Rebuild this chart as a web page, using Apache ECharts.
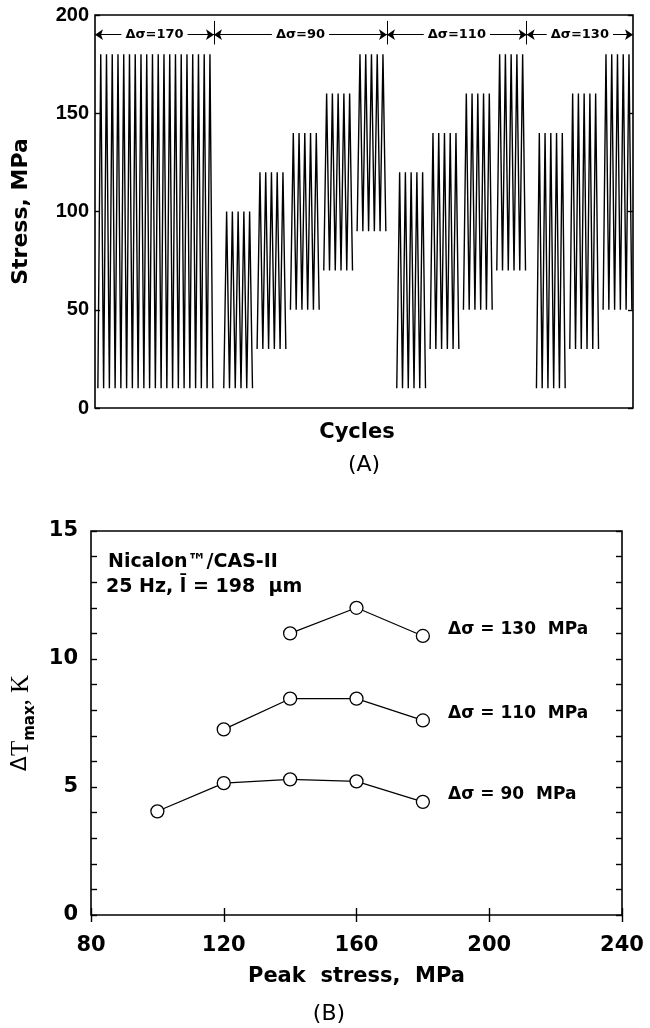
<!DOCTYPE html>
<html><head><meta charset="utf-8">
<script src="https://cdn.jsdelivr.net/npm/echarts@6/dist/echarts.min.js"></script>
<style>html,body{margin:0;padding:0;background:#fff}#c{width:650px;height:1028px}</style>
</head><body><div id="c"></div>
<script>
// ---------- Panel A: loading program (stress levels per step, cycles per step) ----------
const stepMin    = [10, 10, 30, 50, 70, 90, 10, 30, 50, 70, 10, 30, 50];
const stepMax    = [180, 100, 120, 140, 160, 180, 120, 140, 160, 180, 140, 160, 180];
const stepCycles = [20, 5, 5, 5, 5, 5, 5, 5, 5, 5, 5, 5, 5];
const stepBlock  = [0, 1, 1, 1, 1, 1, 2, 2, 2, 2, 3, 3, 3];
const blockLabels = ['Δσ=170', 'Δσ=90', 'Δσ=110', 'Δσ=130'];
const stressTicks = [0, 50, 100, 150, 200];

// ---------- Panel B: ΔTmax vs peak stress ----------
const peakStress = [100, 120, 140, 160, 180];
const dT90  = [4.05, 5.15, 5.3, 5.22, 4.42];
const dT110 = [null, 7.25, 8.45, 8.45, 7.6];
const dT130 = [null, null, 11.0, 12.0, 10.9];
const seriesLabels = ['Δσ = 90  MPa', 'Δσ = 110  MPa', 'Δσ = 130  MPa'];
const peakTicks = [80, 120, 160, 200, 240];
const dTTicks = [0, 5, 10, 15];

// ---------- styling constants ----------
const FB = 'DejaVu Sans';
const FA = 'Liberation Sans';
const STEP_GAP = 0.8, BLOCK_GAP = 1.9, START = 0.5, END_PAD = 0.2;

const waveSeries = [];
const blockStart = [], blockEnd = [];
let cur = START;
stepMin.forEach((lo, i) => {
  const b = stepBlock[i];
  if (i > 0) cur += (b !== stepBlock[i - 1]) ? BLOCK_GAP : STEP_GAP;
  if (blockStart[b] === undefined) blockStart[b] = cur;
  const pts = [];
  for (let c = 0; c < stepCycles[i]; c++) {
    pts.push([cur + c, lo]);
    pts.push([cur + c + 0.5, stepMax[i]]);
  }
  pts.push([cur + stepCycles[i], lo]);
  cur += stepCycles[i];
  blockEnd[b] = cur;
  waveSeries.push({
    type: 'line', xAxisIndex: 0, yAxisIndex: 0, data: pts,
    showSymbol: false, symbol: 'none', silent: true,
    lineStyle: { color: '#000', width: 1.4 }
  });
});
const XMAX = cur + END_PAD;
const seps = blockEnd.slice(0, -1).map(e => e + 0.2);
const bounds = [0, ...seps, XMAX];
const ARROW_Y = 190;

waveSeries[0].markLine = {
  silent: true, animation: false, symbol: ['arrow', 'arrow'], symbolSize: 8,
  lineStyle: { color: '#000', width: 1, type: 'solid' },
  label: { show: false },
  data: blockLabels.map((t, b) => [
    { coord: [bounds[b], ARROW_Y] },
    { coord: [bounds[b + 1], ARROW_Y] }
  ])
};
waveSeries[1].markLine = {
  silent: true, animation: false, symbol: 'none',
  lineStyle: { color: '#000', width: 1, type: 'solid' },
  label: { show: false },
  data: seps.map(s => [{ coord: [s, 185] }, { coord: [s, 197] }])
};

const blockLabelSeries = {
  type: 'scatter', xAxisIndex: 0, yAxisIndex: 0, z: 10, silent: true,
  symbol: 'rect', symbolSize: 1, itemStyle: { color: '#fff', opacity: 1 },
  label: {
    show: true, position: 'inside', formatter: '{b}', color: '#000', opacity: 1,
    textBorderWidth: 0, textShadowBlur: 0,
    fontFamily: FB, fontWeight: 'bold', fontSize: 13,
    backgroundColor: '#fff', padding: [1, 4]
  },
  emphasis: { disabled: true },
  data: blockLabels.map((t, b) => ({ name: t, value: [(bounds[b] + bounds[b + 1]) / 2, ARROW_Y] }))
};

const labelDy = [-7, -7, -6];
const bSeries = [dT90, dT110, dT130].map((vals, k) => {
  const pts = [];
  peakStress.forEach((x, i) => { if (vals[i] != null) pts.push([x, vals[i]]); });
  const last = pts.length - 1;
  return {
    type: 'line', xAxisIndex: 1, yAxisIndex: 2,
    symbol: 'circle', symbolSize: 13, showSymbol: true, silent: true,
    itemStyle: { color: '#fff', borderColor: '#000', borderWidth: 1.3 },
    lineStyle: { color: '#000', width: 1.2 },
    data: pts.map((p, i) => i === last ? {
      value: p,
      label: {
        show: true, position: 'right', distance: 18, offset: [0, labelDy[k]],
        formatter: seriesLabels[k], color: '#000',
        fontFamily: FB, fontWeight: 'bold', fontSize: 17
      }
    } : p)
  };
});

const tickStyle = { color: '#000', width: 1.4 };
const nameStyle = (size) => ({ fontFamily: FB, fontWeight: 'bold', fontSize: size, color: '#000' });

const option = {
  animation: false,
  backgroundColor: '#fff',
  grid: [
    { left: 95, top: 15, width: 538, height: 393, show: true, borderColor: '#000', borderWidth: 1.6, containLabel: false },
    { left: 91, top: 531, width: 531, height: 384, show: true, borderColor: '#000', borderWidth: 1.6, containLabel: false }
  ],
  xAxis: [
    {
      gridIndex: 0, type: 'value', min: 0, max: XMAX,
      axisLine: { show: false }, axisTick: { show: false }, axisLabel: { show: false }, splitLine: { show: false },
      name: 'Cycles', nameLocation: 'middle', nameGap: 14,
      nameTextStyle: Object.assign(nameStyle(21), { padding: [0, 14, 0, 0] })
    },
    {
      gridIndex: 1, type: 'value', min: peakTicks[0], max: peakTicks[peakTicks.length - 1], interval: 40, position: 'bottom',
      axisLine: { show: false }, splitLine: { show: false },
      axisTick: { show: true, inside: true, length: 7, lineStyle: tickStyle },
      axisLabel: { show: true, margin: 20, fontFamily: FB, fontWeight: 'bold', fontSize: 21, color: '#000' },
      name: 'Peak  stress,  MPa', nameLocation: 'middle', nameGap: 51, nameTextStyle: nameStyle(21)
    },
    {
      gridIndex: 1, type: 'value', min: peakTicks[0], max: peakTicks[peakTicks.length - 1], interval: 40, position: 'top',
      axisLine: { show: false }, splitLine: { show: false }, axisLabel: { show: false },
      axisTick: { show: true, inside: true, length: 7, lineStyle: tickStyle }
    }
  ],
  yAxis: [
    {
      gridIndex: 0, type: 'value', min: stressTicks[0], max: stressTicks[stressTicks.length - 1], interval: 50, position: 'left',
      axisLine: { show: false }, splitLine: { show: false },
      axisTick: { show: true, inside: true, length: 5, lineStyle: tickStyle },
      axisLabel: { show: true, margin: 6, fontFamily: FA, fontWeight: 'bold', fontSize: 20, color: '#000' },
      name: 'Stress, MPa', nameLocation: 'middle', nameRotate: 90, nameGap: 63, nameTextStyle: nameStyle(22)
    },
    {
      gridIndex: 0, type: 'value', min: stressTicks[0], max: stressTicks[stressTicks.length - 1], interval: 50, position: 'right',
      axisLine: { show: false }, splitLine: { show: false }, axisLabel: { show: false },
      axisTick: { show: true, inside: true, length: 5, lineStyle: tickStyle }
    },
    {
      gridIndex: 1, type: 'value', min: dTTicks[0], max: dTTicks[dTTicks.length - 1], interval: 5, position: 'left',
      axisLine: { show: false }, splitLine: { show: false },
      axisTick: { show: true, inside: true, length: 6, lineStyle: tickStyle },
      minorTick: { show: true, splitNumber: 5, length: 6, lineStyle: tickStyle },
      axisLabel: { show: true, margin: 13, fontFamily: FB, fontWeight: 'bold', fontSize: 21, color: '#000' },
      name: '{d|Δ}{t|T}{s|max}{t|, K}', nameLocation: 'middle', nameRotate: 90, nameGap: 30,
      nameTextStyle: {
        color: '#000',
        rich: {
          d: { fontFamily: FB, fontSize: 22, color: '#000', lineHeight: 24, verticalAlign: 'top' },
          t: { fontFamily: 'Liberation Serif', fontSize: 25, color: '#000', lineHeight: 24, verticalAlign: 'top' },
          s: { fontFamily: FB, fontWeight: 'bold', fontSize: 15, color: '#000', lineHeight: 42, verticalAlign: 'middle' }
        }
      }
    },
    {
      gridIndex: 1, type: 'value', min: dTTicks[0], max: dTTicks[dTTicks.length - 1], interval: 5, position: 'right',
      axisLine: { show: false }, splitLine: { show: false }, axisLabel: { show: false },
      axisTick: { show: true, inside: true, length: 6, lineStyle: tickStyle },
      minorTick: { show: true, splitNumber: 5, length: 6, lineStyle: tickStyle }
    }
  ],
  graphic: [
    { type: 'text', x: 364, y: 465, style: { text: '(A)', font: '22px "DejaVu Sans"', fill: '#000', align: 'center', verticalAlign: 'middle' } },
    { type: 'text', x: 329, y: 1014, style: { text: '(B)', font: '22px "DejaVu Sans"', fill: '#000', align: 'center', verticalAlign: 'middle' } },
    { type: 'text', x: 108, y: 562, style: { text: 'Nicalon™/CAS-II', font: 'bold 19px "DejaVu Sans"', fill: '#000', align: 'left', verticalAlign: 'middle' } },
    { type: 'text', x: 106, y: 587, style: { text: '25 Hz, l\u0304 = 198  μm', font: 'bold 19px "DejaVu Sans"', fill: '#000', align: 'left', verticalAlign: 'middle' } }
  ],
  series: [...waveSeries, blockLabelSeries, ...bSeries]
};

const chart = echarts.init(document.getElementById('c'), null, { renderer: 'canvas' });
chart.setOption(option);
</script>
</body></html>
